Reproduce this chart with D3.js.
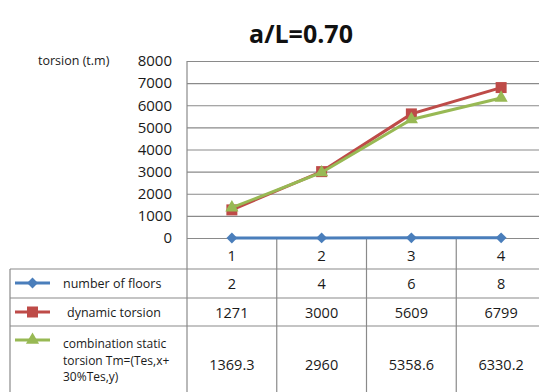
<!DOCTYPE html>
<html>
<head>
<meta charset="utf-8">
<script src="https://cdn.jsdelivr.net/npm/d3@7/dist/d3.min.js"></script>
<style>
  html, body { margin: 0; padding: 0; background: #fff; }
  svg { display: block; font-family: "Open Sans", "Noto Sans", sans-serif; }
</style>
</head>
<body>
<svg id="chart" width="539" height="392"></svg>
<script>
// Chart data
const categories = ["1", "2", "3", "4"];
const floors = [2, 4, 6, 8];
const dynamicTorsion = [1271, 3000, 5609, 6799];
const combinationTorsion = [1369.3, 2960, 5358.6, 6330.2];
const floorsLabels = ["2", "4", "6", "8"];
const dynamicLabels = ["1271", "3000", "5609", "6799"];
const combinationLabels = ["1369.3", "2960", "5358.6", "6330.2"];
const yTicks = [0, 1000, 2000, 3000, 4000, 5000, 6000, 7000, 8000];

const svg = d3.select("#chart");

const plotLeft = 187, plotRight = 546, plotTop = 61, plotBottom = 238;
const tableLeft = 10, tableBottom = 395;
const rowLines = [269, 298, 326];

const x = d3.scaleBand().domain(categories).range([plotLeft, plotRight]);
const y = d3.scaleLinear().domain([0, 8000]).range([plotBottom, plotTop]);

const gridColor = "#8a8a8a";
const textColor = "#1a1a1a";
const blue = "#4a7ebb", red = "#be4b48", green = "#98b954";

// Title
svg.append("text")
  .attr("x", 301).attr("y", 43)
  .attr("text-anchor", "middle")
  .attr("font-size", 25).attr("font-weight", "bold")
  .attr("fill", "#111")
  .text("a/L=0.70");

// Y axis title
svg.append("text")
  .attr("x", 38).attr("y", 65)
  .attr("font-size", 12.5).attr("fill", textColor)
  .text("torsion (t.m)");

// Gridlines
const grid = svg.append("g")
  .attr("transform", `translate(${plotLeft},0)`)
  .call(d3.axisLeft(y).tickValues(yTicks).tickSize(-(plotRight - plotLeft)).tickFormat(""));
grid.select(".domain").remove();
grid.selectAll(".tick line").attr("stroke", gridColor).attr("stroke-width", 1.2);

// Y tick labels
const yAxis = svg.append("g")
  .attr("transform", `translate(172,0)`)
  .call(d3.axisLeft(y).tickValues(yTicks).tickSize(0).tickPadding(0).tickFormat(d3.format("d")));
yAxis.select(".domain").remove();
yAxis.selectAll(".tick text")
  .attr("font-size", 15).attr("fill", textColor)
  .attr("font-family", "'Open Sans', sans-serif");

// Plot left border continuing down through the table
svg.append("line")
  .attr("x1", plotLeft).attr("x2", plotLeft)
  .attr("y1", plotTop).attr("y2", tableBottom)
  .attr("stroke", gridColor).attr("stroke-width", 1.2);

// Category separators from the zero line down through the table
categories.slice(1).forEach(c => {
  svg.append("line")
    .attr("x1", x(c)).attr("x2", x(c))
    .attr("y1", plotBottom).attr("y2", tableBottom)
    .attr("stroke", gridColor).attr("stroke-width", 1.2);
});

// Category labels
svg.append("g").selectAll("text")
  .data(categories).join("text")
  .attr("x", d => x(d) + x.bandwidth() / 2)
  .attr("y", 255)
  .attr("text-anchor", "middle").attr("dominant-baseline", "central")
  .attr("font-size", 15).attr("fill", textColor)
  .text(d => d);

// Table borders
rowLines.forEach(ry => {
  svg.append("line")
    .attr("x1", tableLeft).attr("x2", plotRight)
    .attr("y1", ry).attr("y2", ry)
    .attr("stroke", gridColor).attr("stroke-width", 1.2);
});
svg.append("line")
  .attr("x1", tableLeft).attr("x2", tableLeft)
  .attr("y1", rowLines[0]).attr("y2", tableBottom)
  .attr("stroke", gridColor).attr("stroke-width", 1.2);

// Markers
function drawMarker(g, type, cx, cy, color) {
  if (type === "diamond") {
    g.append("path")
      .attr("d", d3.symbol(d3.symbolDiamond2, 75)())
      .attr("transform", `translate(${cx},${cy})`)
      .attr("fill", color);
  } else if (type === "square") {
    g.append("rect")
      .attr("x", cx - 5.5).attr("y", cy - 5.5)
      .attr("width", 11).attr("height", 11)
      .attr("fill", color);
  } else {
    g.append("path")
      .attr("d", d3.symbol(d3.symbolTriangle, 75)())
      .attr("transform", `translate(${cx},${cy})`)
      .attr("fill", color);
  }
}

const series = [
  { values: floors, color: blue, marker: "diamond" },
  { values: dynamicTorsion, color: red, marker: "square" },
  { values: combinationTorsion, color: green, marker: "triangle" }
];

const line = d3.line()
  .x((d, i) => x(categories[i]) + x.bandwidth() / 2)
  .y(d => y(d));

series.forEach(s => {
  const g = svg.append("g");
  g.append("path")
    .attr("d", line(s.values))
    .attr("fill", "none")
    .attr("stroke", s.color)
    .attr("stroke-width", 3);
  s.values.forEach((v, i) => {
    drawMarker(g, s.marker, x(categories[i]) + x.bandwidth() / 2, y(v), s.color);
  });
});

// Legend keys inside the table
const legendRows = [
  { y: 283, color: blue, marker: "diamond" },
  { y: 312, color: red, marker: "square" },
  { y: 340, color: green, marker: "triangle" }
];
legendRows.forEach(r => {
  const g = svg.append("g");
  g.append("line")
    .attr("x1", 15).attr("x2", 50)
    .attr("y1", r.y).attr("y2", r.y)
    .attr("stroke", r.color).attr("stroke-width", 3);
  drawMarker(g, r.marker, 32.5, r.y, r.color);
});

// Legend labels
const legendText = svg.append("g")
  .attr("font-size", 12.5).attr("fill", textColor);
legendText.append("text").attr("x", 63).attr("y", 283)
  .attr("dominant-baseline", "central").text("number of floors");
legendText.append("text").attr("x", 67).attr("y", 312)
  .attr("dominant-baseline", "central").text("dynamic torsion");
[["combination static", 343.5], ["torsion Tm=(Tes,x+", 360], ["30%Tes,y)", 376.5]]
  .forEach(([t, ty]) => {
    legendText.append("text").attr("x", 63).attr("y", ty)
      .attr("font-size", 12)
      .attr("dominant-baseline", "central").text(t);
  });

// Table values
const valueRows = [
  { labels: floorsLabels, y: 283 },
  { labels: dynamicLabels, y: 312 },
  { labels: combinationLabels, y: 364 }
];
valueRows.forEach(r => {
  svg.append("g").selectAll("text")
    .data(r.labels).join("text")
    .attr("x", (d, i) => x(categories[i]) + x.bandwidth() / 2)
    .attr("y", r.y)
    .attr("text-anchor", "middle").attr("dominant-baseline", "central")
    .attr("font-size", 14.5).attr("fill", textColor)
    .text(d => d);
});
</script>
</body>
</html>
